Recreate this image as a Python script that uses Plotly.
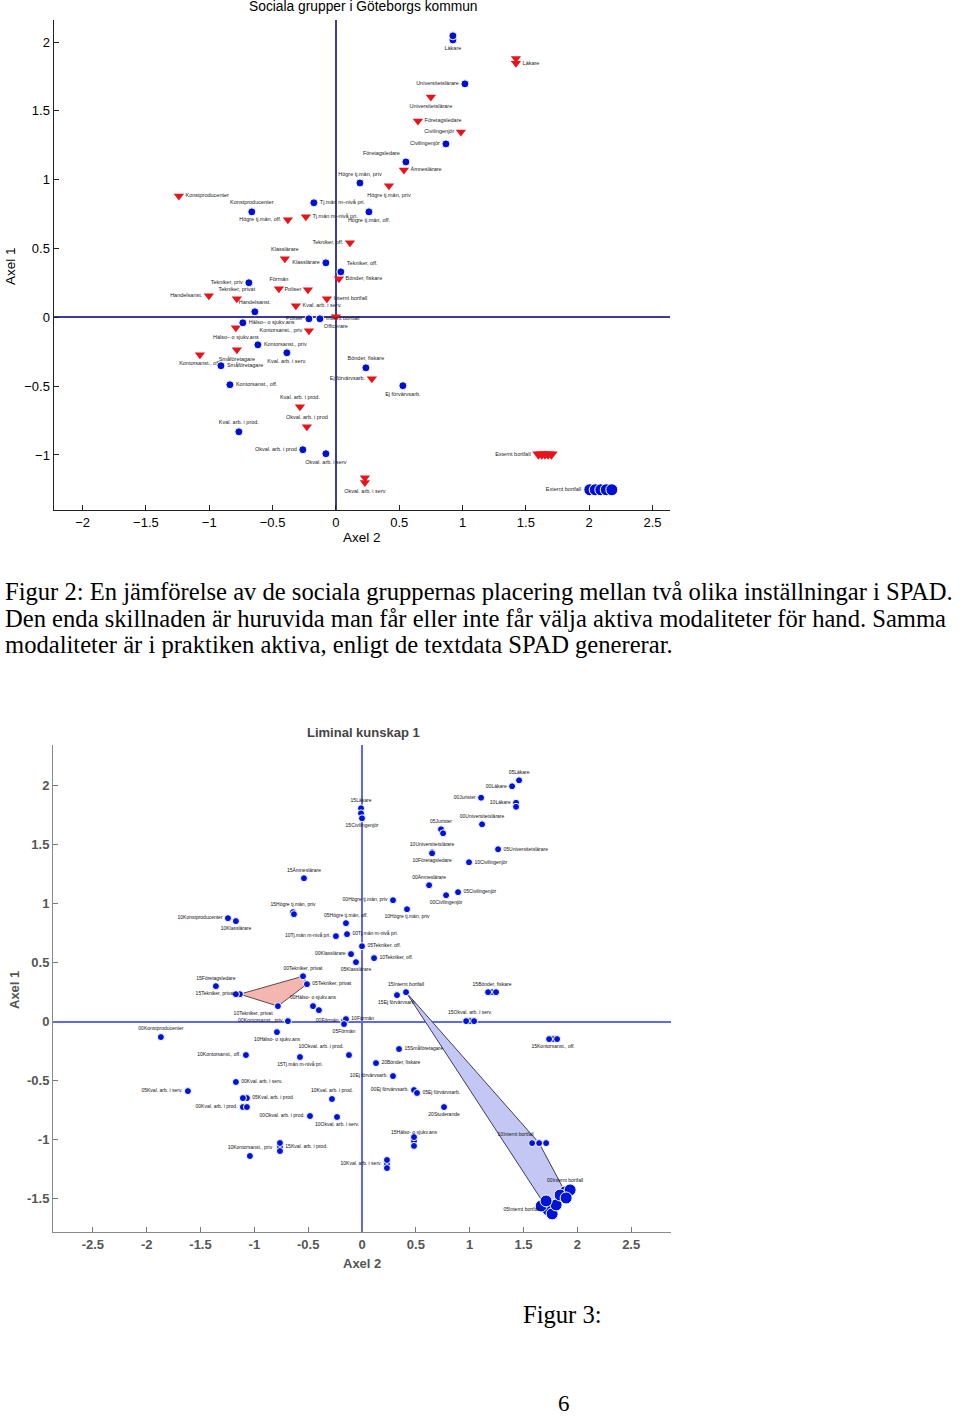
import plotly.graph_objects as go

# ---------------- Top chart data (Sociala grupper i Göteborgs kommun) ----------------
TOP_BLUE_LABELS = ["Läkare", "", "Universitetslärare", "Civilingenjör", "Företagsledare",
                   "Högre tj.män, priv", "Tj.män m–nivå pri.", "Högre tj.män, off.", "Konstproducenter",
                   "Klasslärare", "Tekniker, off.", "Tekniker, priv", "Handelsanst.", "Poliser",
                   "Internt bortfall", "Hälso– o sjukv.ans", "Kontorsanst., priv", "Kval. arb. i serv.",
                   "Småföretagare", "Kontorsanst., off.", "Bönder, fiskare", "Ej förvärvsarb.",
                   "Kval. arb. i prod.", "Okval. arb. i prod", "Okval. arb. i serv",
                   "Externt bortfall", "", "", "", ""]
TOP_BLUE_X = [0.924, 0.924, 1.019, 0.869, 0.553, 0.190, -0.174, 0.261, -0.664, -0.079, 0.039,
              -0.687, -0.640, -0.213, -0.126, -0.735, -0.616, -0.387, -0.908, -0.837, 0.237,
              0.529, -0.766, -0.261, -0.079, 2.005, 2.048, 2.092, 2.135, 2.179]
TOP_BLUE_Y = [2.015, 2.045, 1.696, 1.260, 1.129, 0.976, 0.832, 0.766, 0.766, 0.396, 0.330,
              0.251, 0.040, -0.011, -0.011, -0.040, -0.200, -0.258, -0.352, -0.490, -0.367,
              -0.497, -0.832, -0.962, -0.991, -1.253, -1.253, -1.253, -1.253, -1.253]

TOP_RED_LABELS = ["Läkare", "", "Universitetslärare", "Företagsledare", "Civilingenjör", "Ämneslärare",
                  "Högre tj.män, priv", "Konstproducenter", "Högre tj.män, off.", "Tj.män m–nivå pri.",
                  "Tekniker, off.", "Klasslärare", "Bönder, fiskare", "Förmän", "Poliser",
                  "Handelsanst.", "Tekniker, privat", "Internt bortfall", "Kval. arb. i serv.",
                  "Officerare", "Kontorsanst., priv", "Hälso– o sjukv.ans", "Småföretagare",
                  "Kontorsanst., off.", "Ej förvärvsarb.", "Kval. arb. i prod.", "Okval. arb. i prod",
                  "", "Okval. arb. i serv", "Externt bortfall", "", "", "", ""]
TOP_RED_X = [1.422, 1.422, 0.750, 0.648, 0.987, 0.537, 0.419, -1.240, -0.379, -0.237, 0.111,
             -0.403, 0.024, -0.450, -0.221, -1.003, -0.782, -0.071, -0.316, 0.000, -0.213,
             -0.790, -0.782, -1.074, 0.284, -0.284, -0.229, 0.229, 0.229,
             1.600, 1.626, 1.651, 1.676, 1.702]
TOP_RED_Y = [1.845, 1.880, 1.601, 1.427, 1.347, 1.071, 0.955, 0.882, 0.708, 0.730, 0.541,
             0.425, 0.280, 0.207, 0.200, 0.156, 0.134, 0.134, 0.084, 0.004, -0.098,
             -0.076, -0.236, -0.272, -0.447, -0.650, -0.795, -1.165, -1.200,
             -0.995, -0.995, -0.995, -0.995, -0.995]

TOP_XTICKS = [-2, -1.5, -1, -0.5, 0, 0.5, 1, 1.5, 2, 2.5]
TOP_YTICKS = [-1, -0.5, 0, 0.5, 1, 1.5, 2]

# label placement (style) for the top chart
TOP_BLUE_POS = {"Läkare": "bottom center", "Universitetslärare": "middle left", "Civilingenjör": "middle left",
                "Företagsledare": "top left", "Högre tj.män, priv": "top center",
                "Tj.män m–nivå pri.": "middle right", "Högre tj.män, off.": "bottom center",
                "Konstproducenter": "top center", "Klasslärare": "middle left", "Tekniker, off.": "top right",
                "Tekniker, priv": "middle left", "Handelsanst.": "top center", "Poliser": "middle left",
                "Internt bortfall": "middle right", "Hälso– o sjukv.ans": "middle right",
                "Kontorsanst., priv": "middle right", "Kval. arb. i serv.": "bottom center",
                "Småföretagare": "middle right", "Kontorsanst., off.": "middle right",
                "Bönder, fiskare": "top center", "Ej förvärvsarb.": "bottom center",
                "Kval. arb. i prod.": "top center", "Okval. arb. i prod": "middle left",
                "Okval. arb. i serv": "bottom center", "Externt bortfall": "middle left"}
TOP_RED_POS = {"Läkare": "middle right", "Universitetslärare": "bottom center", "Företagsledare": "middle right",
               "Civilingenjör": "middle left", "Ämneslärare": "middle right", "Högre tj.män, priv": "bottom center",
               "Konstproducenter": "middle right", "Högre tj.män, off.": "middle left",
               "Tj.män m–nivå pri.": "middle right", "Tekniker, off.": "middle left", "Klasslärare": "top center",
               "Bönder, fiskare": "middle right", "Förmän": "top center", "Poliser": "middle left",
               "Handelsanst.": "middle left", "Tekniker, privat": "top center", "Internt bortfall": "middle right",
               "Kval. arb. i serv.": "middle right", "Officerare": "bottom center",
               "Kontorsanst., priv": "middle left", "Hälso– o sjukv.ans": "bottom center",
               "Småföretagare": "bottom center", "Kontorsanst., off.": "bottom center",
               "Ej förvärvsarb.": "middle left", "Kval. arb. i prod.": "top center",
               "Okval. arb. i prod": "top center", "Okval. arb. i serv": "bottom center",
               "Externt bortfall": "middle left"}

# ---------------- Bottom chart data (Liminal kunskap 1) ----------------
BOT_LABELS = ["05Läkare", "00Läkare", "10Läkare", "", "00Jurister", "00Universitetslärare", "05Jurister", "",
              "10Universitetslärare", "10Företagsledare", "05Universitetslärare", "10Civilingenjör",
              "00Ämneslärare", "05Civilingenjör", "00Civilingenjör", "10Högre tj.män, priv",
              "00Högre tj.män, priv", "15Högre tj.män, priv", "", "15Ämneslärare", "15Läkare", "",
              "15Civilingenjör", "10Konstproducenter", "10Klasslärare", "05Högre tj.män, off.",
              "10Tj.män m-nivå pri.", "00Tj.män m-nivå pri.", "05Tekniker, off.", "10Tekniker, off.",
              "00Klasslärare", "05Klasslärare", "00Tekniker, privat", "05Tekniker, privat",
              "10Tekniker, privat", "15Tekniker, privat", "", "15Företagsledare", "00Hälso- o sjukv.ans", "",
              "00Kontorsanst., priv", "00Förmän", "10Förmän", "05Förmän", "00Konstproducenter",
              "10Hälso- o sjukv.ans", "15Ej förvärvsarb.", "15Internt bortfall", "15Bönder, fiskare", "", "",
              "15Okval. arb. i serv.", "", "", "15Kontorsanst., off.", "", "", "15Småföretagare",
              "20Bönder, fiskare", "10Okval. arb. i prod.", "10Ej förvärvsarb.", "00Ej förvärvsarb.",
              "05Ej förvärvsarb.", "20Studerande", "10Kval. arb. i prod.", "00Okval. arb. i prod.",
              "10Okval. arb. i serv.", "15Hälso- o sjukv.ans", "", "", "10Kval. arb. i serv.", "", "",
              "10Internt bortfall", "", "", "05Internt bortfall", "", "", "", "",
              "00Internt bortfall", "", "", "", "10Kontorsanst., off.", "15Tj.män m-nivå pri.",
              "00Kval. arb. i serv.", "05Kval. arb. i serv.", "05Kval. arb. i prod.", "",
              "00Kval. arb. i prod.", "", "15Kval. arb. i prod.", "", "", "10Kontorsanst., priv"]
BOT_X = [1.459, 1.394, 1.431, 1.431, 1.106, 1.115, 0.734, 0.753,
         0.651, 0.651, 1.264, 0.994,
         0.623, 0.892, 0.781, 0.418,
         0.288, -0.641, -0.632, -0.539, -0.009, -0.009,
         0.000, -1.245, -1.171, -0.149,
         -0.242, -0.139, 0.000, 0.112,
         -0.102, -0.056, -0.548, -0.511,
         -0.781, -1.134, -1.171, -1.357, -0.455, -0.400,
         -0.688, -0.167, -0.149, -0.167, -1.868,
         -0.790, 0.325, 0.409, 1.208, 1.171, 1.245,
         1.004, 0.967, 1.041, 1.775, 1.738, 1.812, 0.344,
         0.130, -0.121, 0.288, 0.483,
         0.511, 0.762, -0.279, -0.483,
         -0.232, 0.483, 0.483, 0.483, 0.232, 0.232, 0.232,
         1.645, 1.580, 1.710, 1.729, 1.664, 1.766, 1.803, 1.710,
         1.887, 1.840, 1.933, 1.896, -1.078, -0.576,
         -1.171, -1.617, -1.069, -1.106,
         -1.106, -1.069, -0.762, -0.762, -0.762, -1.041]
BOT_Y = [2.041, 1.991, 1.851, 1.817, 1.894, 1.669, 1.627, 1.593,
         1.433, 1.424, 1.458, 1.348,
         1.154, 1.095, 1.069, 0.951,
         1.027, 0.926, 0.909, 1.213, 1.805, 1.762,
         1.720, 0.875, 0.850, 0.833,
         0.723, 0.740, 0.638, 0.537,
         0.571, 0.503, 0.384, 0.317,
         0.131, 0.232, 0.232, 0.300, 0.131, 0.097,
         0.004, 0.004, 0.021, -0.021, -0.131,
         -0.089, 0.224, 0.249, 0.249, 0.249, 0.249,
         0.004, 0.004, 0.004, -0.148, -0.148, -0.148, -0.232,
         -0.351, -0.283, -0.461, -0.579,
         -0.604, -0.723, -0.655, -0.799,
         -0.807, -1.010, -0.977, -1.052, -1.205, -1.171, -1.239,
         -1.028, -1.028, -1.028, -1.594, -1.560, -1.627, -1.551, -1.517,
         -1.441, -1.467, -1.424, -1.492, -0.283, -0.300,
         -0.511, -0.588, -0.647, -0.647,
         -0.723, -0.723, -1.061, -1.027, -1.095, -1.137]

BOT_XTICKS = [-2.5, -2, -1.5, -1, -0.5, 0, 0.5, 1, 1.5, 2, 2.5]
BOT_XTICKTEXT = ["-2.5", "-2", "-1.5", "-1", "-0.5", "0", "0.5", "1", "1.5", "2", "2.5"]
BOT_YTICKS = [-1.5, -1, -0.5, 0, 0.5, 1, 1.5, 2]
BOT_YTICKTEXT = ["-1.5", "-1", "-0.5", "0", "0.5", "1", "1.5", "2"]

PINK_GROUP = ["00Tekniker, privat", "05Tekniker, privat", "10Tekniker, privat", "15Tekniker, privat"]
BLUE_GROUP = ["00Internt bortfall", "05Internt bortfall", "10Internt bortfall", "15Internt bortfall"]

BOT_POS = {"05Läkare": "top center", "00Läkare": "middle left", "10Läkare": "middle left",
           "00Jurister": "middle left", "00Universitetslärare": "top center", "05Jurister": "top center",
           "10Universitetslärare": "top center", "10Företagsledare": "bottom center",
           "05Universitetslärare": "middle right", "10Civilingenjör": "middle right",
           "00Ämneslärare": "top center", "05Civilingenjör": "middle right", "00Civilingenjör": "bottom center",
           "10Högre tj.män, priv": "bottom center", "00Högre tj.män, priv": "middle left",
           "15Högre tj.män, priv": "top center", "15Ämneslärare": "top center", "15Läkare": "top center",
           "15Civilingenjör": "bottom center", "10Konstproducenter": "middle left",
           "10Klasslärare": "bottom center", "05Högre tj.män, off.": "top center",
           "10Tj.män m-nivå pri.": "middle left", "00Tj.män m-nivå pri.": "middle right",
           "05Tekniker, off.": "middle right", "10Tekniker, off.": "middle right",
           "00Klasslärare": "middle left", "05Klasslärare": "bottom center",
           "00Tekniker, privat": "top center", "05Tekniker, privat": "middle right",
           "10Tekniker, privat": "bottom left", "15Tekniker, privat": "middle left",
           "15Företagsledare": "top center", "00Hälso- o sjukv.ans": "top center",
           "00Kontorsanst., priv": "middle left", "00Förmän": "middle left", "10Förmän": "middle right",
           "05Förmän": "bottom center", "00Konstproducenter": "top center",
           "10Hälso- o sjukv.ans": "bottom center", "15Ej förvärvsarb.": "bottom center",
           "15Internt bortfall": "top center", "15Bönder, fiskare": "top center",
           "15Okval. arb. i serv.": "top center", "15Kontorsanst., off.": "bottom center",
           "15Småföretagare": "middle right", "20Bönder, fiskare": "middle right",
           "10Okval. arb. i prod.": "top left", "10Ej förvärvsarb.": "middle left",
           "00Ej förvärvsarb.": "middle left", "05Ej förvärvsarb.": "middle right",
           "20Studerande": "bottom center", "10Kval. arb. i prod.": "top center",
           "00Okval. arb. i prod.": "middle left", "10Okval. arb. i serv.": "bottom center",
           "15Hälso- o sjukv.ans": "top center", "10Kval. arb. i serv.": "middle left",
           "10Internt bortfall": "top left", "05Internt bortfall": "middle left",
           "00Internt bortfall": "top center", "10Kontorsanst., off.": "middle left",
           "15Tj.män m-nivå pri.": "bottom center", "00Kval. arb. i serv.": "middle right",
           "05Kval. arb. i serv.": "middle left", "05Kval. arb. i prod.": "middle right",
           "00Kval. arb. i prod.": "middle left", "15Kval. arb. i prod.": "middle right",
           "10Kontorsanst., priv": "top center"}


def hull(points):
    pts = sorted(set(points))
    if len(pts) < 3:
        return pts

    def cross(o, a, b):
        return (a[0] - o[0]) * (b[1] - o[1]) - (a[1] - o[1]) * (b[0] - o[0])
    lower, upper = [], []
    for p in pts:
        while len(lower) >= 2 and cross(lower[-2], lower[-1], p) <= 0:
            lower.pop()
        lower.append(p)
    for p in reversed(pts):
        while len(upper) >= 2 and cross(upper[-2], upper[-1], p) <= 0:
            upper.pop()
        upper.append(p)
    return lower[:-1] + upper[:-1]


W, H = 960, 1420
fig = go.Figure()

# ---- top chart ----
RED = "#e8141c"
BLUE = "#0010d0"
red_sizes = [11 if i >= 29 else 9 for i in range(len(TOP_RED_LABELS))]
fig.add_trace(go.Scatter(
    x=TOP_RED_X, y=TOP_RED_Y, mode="markers+text", text=TOP_RED_LABELS,
    textposition=[TOP_RED_POS.get(l, "middle right") for l in TOP_RED_LABELS],
    textfont=dict(size=5.5, color="#222", family="Liberation Sans"),
    marker=dict(symbol="triangle-down", size=red_sizes, color=RED, opacity=1,
                line=dict(width=0)),
    xaxis="x", yaxis="y", hoverinfo="skip", cliponaxis=False))
fig.add_trace(go.Scatter(
    x=TOP_BLUE_X, y=TOP_BLUE_Y, mode="markers+text", text=TOP_BLUE_LABELS,
    textposition=[TOP_BLUE_POS.get(l, "middle right") for l in TOP_BLUE_LABELS],
    textfont=dict(size=5.5, color="#222", family="Liberation Sans"),
    marker=dict(symbol="circle", size=[12 if i >= 25 else 8 for i in range(len(TOP_BLUE_LABELS))],
                color=BLUE, opacity=1),
    xaxis="x", yaxis="y", hoverinfo="skip", cliponaxis=False))

# ---- bottom chart ----
lab_idx = {l: i for i, l in enumerate(BOT_LABELS) if l}
for grp, fill, line in [(PINK_GROUP, "rgba(244,182,176,1)", "#5e4848"),
                        (BLUE_GROUP, "rgba(196,198,244,1)", "#3c3c5c")]:
    h = hull([(BOT_X[lab_idx[g]], BOT_Y[lab_idx[g]]) for g in grp])
    h = h + [h[0]]
    fig.add_trace(go.Scatter(x=[p[0] for p in h], y=[p[1] for p in h], mode="lines", fill="toself",
                             fillcolor=fill, line=dict(color=line, width=1),
                             xaxis="x2", yaxis="y2", hoverinfo="skip"))

BIG = {"05Internt bortfall", "00Internt bortfall"}
sizes = []
cur = 7
for i, l in enumerate(BOT_LABELS):
    if l:
        cur = 12 if l in BIG else 7
    sizes.append(cur)
fig.add_trace(go.Scatter(
    x=BOT_X, y=BOT_Y, mode="markers+text", text=BOT_LABELS,
    textposition=[BOT_POS.get(l, "middle right") for l in BOT_LABELS],
    textfont=dict(size=5, color="#111", family="Liberation Sans"),
    marker=dict(symbol="circle", size=sizes, color="#0014d8", opacity=1),
    xaxis="x2", yaxis="y2", hoverinfo="skip", cliponaxis=False))

axis_common = dict(showgrid=False, ticks="inside", ticklen=5, showline=True, mirror=False)

fig.update_layout(
    width=W, height=H, margin=dict(l=0, r=0, t=0, b=0),
    paper_bgcolor="white", plot_bgcolor="white", showlegend=False,
    font=dict(family="Liberation Sans", color="black"),
    xaxis=dict(domain=[53.5 / W, 670.2 / W], range=[-2.23, 2.64], anchor="y",
               tickvals=TOP_XTICKS, tickfont=dict(size=13, color="black"),
               linecolor="#222", tickcolor="#222", zeroline=True, zerolinecolor="#3b3b98",
               zerolinewidth=1.5, **axis_common),
    yaxis=dict(domain=[1 - 510 / H, 1 - 20 / H], range=[-1.40, 2.16], anchor="x",
               tickvals=TOP_YTICKS, tickfont=dict(size=13, color="black"),
               linecolor="#222", tickcolor="#222", zeroline=True, zerolinecolor="#3b3b98",
               zerolinewidth=1.5, **axis_common),
    xaxis2=dict(domain=[53 / W, 671 / W], range=[-2.87, 2.87], anchor="y2",
                tickvals=BOT_XTICKS, ticktext=BOT_XTICKTEXT,
                tickfont=dict(size=13, color="#555", family="Liberation Sans", weight="bold"),
                linecolor="#8a8a8a", tickcolor="#777", zeroline=True, zerolinecolor="#6068f0",
                zerolinewidth=1.5, **axis_common),
    yaxis2=dict(domain=[1 - 1232 / H, 1 - 745 / H], range=[-1.78, 2.34], anchor="x2",
                tickvals=BOT_YTICKS, ticktext=BOT_YTICKTEXT,
                tickfont=dict(size=13, color="#555", family="Liberation Sans", weight="bold"),
                linecolor="#8a8a8a", tickcolor="#777", zeroline=True, zerolinecolor="#6068f0",
                zerolinewidth=1.5, **axis_common),
)


def px_ann(x, y, text, size, color="black", family="Liberation Sans", xanchor="center",
           yanchor="middle", angle=0, weight="normal"):
    fig.add_annotation(x=x / W, y=1 - y / H, xref="paper", yref="paper", text=text, showarrow=False,
                       xanchor=xanchor, yanchor=yanchor, textangle=angle,
                       font=dict(size=size, color=color, family=family, weight=weight))


# top chart titles
px_ann(363, 7, "Sociala grupper i Göteborgs kommun", 13.8)
px_ann(362, 538, "Axel 2", 13.5)
px_ann(11, 266, "Axel 1", 13.5, angle=-90)
# bottom chart titles
px_ann(363, 732, "Liminal kunskap 1", 13, color="#444", weight="bold")
px_ann(362, 1263, "Axel 2", 13, color="#555", weight="bold")
px_ann(15, 990, "Axel 1", 13, color="#555", angle=-90, weight="bold")

# caption text
SERIF = "Liberation Serif"
CAP = 24.6
px_ann(3, 591, "Figur 2: En jämförelse av de sociala gruppernas placering mellan två olika inställningar i SPAD.",
       CAP, family=SERIF, xanchor="left")
px_ann(3, 618, "Den enda skillnaden är huruvida man får eller inte får välja aktiva modaliteter för hand. Samma",
       CAP, family=SERIF, xanchor="left")
px_ann(3, 645, "modaliteter är i praktiken aktiva, enligt de textdata SPAD genererar.",
       CAP, family=SERIF, xanchor="left")
px_ann(521, 1314, "Figur 3:", CAP, family=SERIF, xanchor="left")
px_ann(564, 1403, "6", 23, family=SERIF)

fig.write_html("out.html", config={"displayModeBar": False},
               post_script="document.body.style.margin='0';")
